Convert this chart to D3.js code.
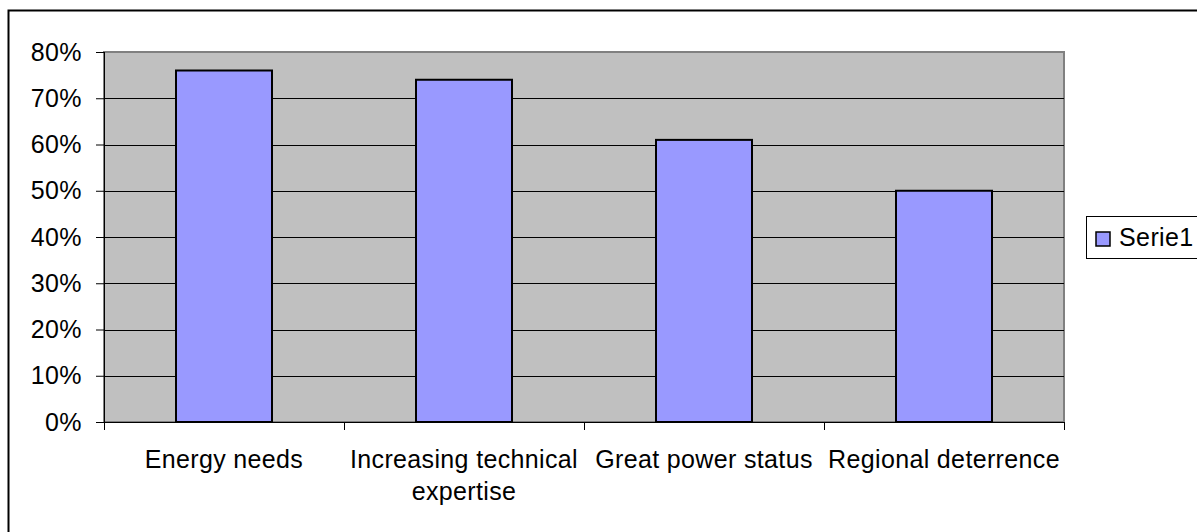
<!DOCTYPE html>
<html>
<head>
<meta charset="utf-8">
<script src="https://cdn.jsdelivr.net/npm/d3@7"></script>
<style>
  body { margin: 0; background: #fff; }
  svg { display: block; font-family: Arial, "Liberation Sans", sans-serif; }
</style>
</head>
<body>
<script>
// chart data
var categories = ["Energy needs", "Increasing technical expertise", "Great power status", "Regional deterrence"];
var values = [0.76, 0.74, 0.61, 0.50];
var yTicks = [0, 0.1, 0.2, 0.3, 0.4, 0.5, 0.6, 0.7, 0.8];
var seriesName = "Serie1";

var w = 1197, h = 532;
var plot = {left: 104, top: 52, right: 1064, bottom: 422};

var svg = d3.select("body").append("svg")
    .attr("width", w)
    .attr("height", h);

// outer chart frame (runs off the right/bottom edge like the source)
svg.append("rect")
    .attr("x", 8.5).attr("y", 10.5)
    .attr("width", 1220).attr("height", 560)
    .attr("fill", "none")
    .attr("stroke", "#000")
    .attr("stroke-width", 2);

var x = d3.scaleBand()
    .domain(categories)
    .range([plot.left, plot.right])
    .paddingInner(0.6)
    .paddingOuter(0.3);

var y = d3.scaleLinear()
    .domain([0, 0.8])
    .range([plot.bottom, plot.top]);

// plot area
svg.append("rect")
    .attr("x", plot.left).attr("y", plot.top)
    .attr("width", plot.right - plot.left)
    .attr("height", plot.bottom - plot.top)
    .attr("fill", "#c0c0c0")
    .attr("stroke", "#808080")
    .attr("stroke-width", 2);

// gridlines
svg.append("g")
    .selectAll("line")
    .data(yTicks.slice(1, -1))
    .enter()
    .append("line")
    .attr("x1", plot.left).attr("x2", plot.right)
    .attr("y1", function(d) { return Math.round(y(d)) + 0.5; })
    .attr("y2", function(d) { return Math.round(y(d)) + 0.5; })
    .attr("stroke", "#000")
    .attr("stroke-width", 1);

// bars
svg.append("g")
    .selectAll("rect")
    .data(values)
    .enter()
    .append("rect")
    .attr("x", function(d, i) { return x(categories[i]); })
    .attr("y", function(d) { return y(d); })
    .attr("width", x.bandwidth())
    .attr("height", function(d) { return y(0) - y(d); })
    .attr("fill", "#9999ff")
    .attr("stroke", "#000")
    .attr("stroke-width", 2);

// y axis
var yAxis = d3.axisLeft(y)
    .tickValues(yTicks)
    .tickFormat(d3.format(".0%"))
    .tickSize(8)
    .tickPadding(14);

var gy = svg.append("g")
    .attr("transform", "translate(" + plot.left + ",0)")
    .call(yAxis);
gy.select(".domain").attr("stroke", "#000").attr("d", "M0.5," + plot.top + "V" + plot.bottom);
gy.selectAll(".tick line").attr("stroke", "#000");
gy.selectAll("text")
    .attr("font-size", "25px")
    .attr("letter-spacing", "0.4px")
    .attr("fill", "#000");

// x axis (ticks between categories)
var xTickPos = d3.range(categories.length + 1).map(function(i) {
    return plot.left + i * (plot.right - plot.left) / categories.length;
});
svg.append("line")
    .attr("x1", plot.left).attr("x2", plot.right)
    .attr("y1", plot.bottom + 0.5).attr("y2", plot.bottom + 0.5)
    .attr("stroke", "#000");
svg.append("g")
    .selectAll("line")
    .data(xTickPos)
    .enter()
    .append("line")
    .attr("x1", function(d) { return Math.round(d) + 0.5; })
    .attr("x2", function(d) { return Math.round(d) + 0.5; })
    .attr("y1", plot.bottom).attr("y2", plot.bottom + 8)
    .attr("stroke", "#000");

// category labels, wrapped to the band width
var labels = svg.append("g")
    .selectAll("text")
    .data(categories)
    .enter()
    .append("text")
    .attr("x", function(d) { return x(d) + x.bandwidth() / 2; })
    .attr("y", 468)
    .attr("text-anchor", "middle")
    .attr("font-size", "25px")
    .attr("letter-spacing", "0.35px")
    .attr("fill", "#000");

labels.each(function(d) {
    var t = d3.select(this);
    var cx = +t.attr("x");
    var words = d.split(" ");
    var line = [];
    var tspan = t.append("tspan").attr("x", cx).attr("dy", 0);
    words.forEach(function(word) {
        line.push(word);
        tspan.text(line.join(" "));
        if (tspan.node().getComputedTextLength() > 238 && line.length > 1) {
            line.pop();
            tspan.text(line.join(" "));
            line = [word];
            tspan = t.append("tspan").attr("x", cx).attr("dy", 32).text(word);
        }
    });
});

// legend
var lg = svg.append("g");
lg.append("rect")
    .attr("x", 1086.5).attr("y", 216.5)
    .attr("width", 120).attr("height", 42)
    .attr("fill", "#fff")
    .attr("stroke", "#000");
lg.append("rect")
    .attr("x", 1096).attr("y", 232)
    .attr("width", 14).attr("height", 14)
    .attr("fill", "#9999ff")
    .attr("stroke", "#000")
    .attr("stroke-width", 1.5);
lg.append("text")
    .attr("x", 1119).attr("y", 246)
    .attr("font-size", "25px")
    .attr("letter-spacing", "0.4px")
    .attr("fill", "#000")
    .text(seriesName);
</script>
</body>
</html>
